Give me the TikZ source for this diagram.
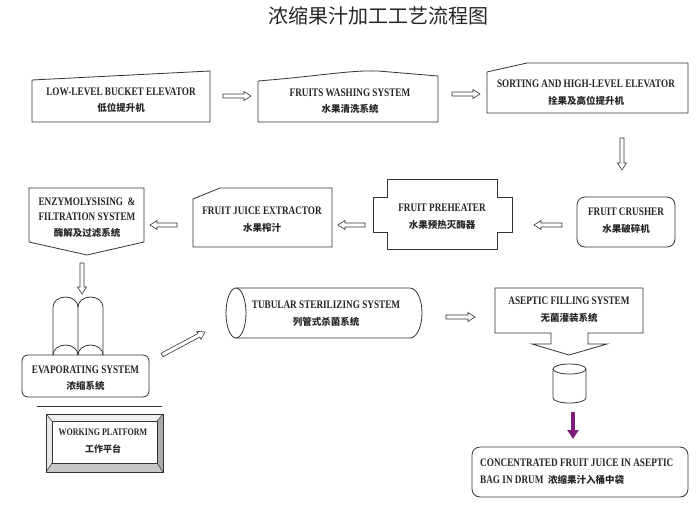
\documentclass[tikz,border=0pt]{standalone}
\usepackage{fontspec}
\setmainfont{Liberation Serif}[FakeStretch=0.8]
\newfontfamily\cjk{Noto Sans CJK SC}
\usetikzlibrary{calc,arrows.meta}
\definecolor{lineC}{gray}{0.2}
\definecolor{purpC}{RGB}{125,30,125}
\tikzset{
  box/.style={draw=lineC, line width=0.8pt},
  lbl/.style={inner sep=0pt, align=center, font=\fontsize{11.5}{16.5}\selectfont\bfseries, text=black!85},
  hollow/.style={draw=lineC, line width=0.6pt, fill=white, to path={
    ($(\tikztotarget)!7pt!(\tikztostart)$) coordinate (hb)
    ($(\tikztostart)!2pt!90:(\tikztotarget)$)
    -- ($(hb)!2pt!-90:(\tikztostart)$)
    -- ($(hb)!4.5pt!-90:(\tikztostart)$)
    -- (\tikztotarget)
    -- ($(hb)!4.5pt!90:(\tikztostart)$)
    -- ($(hb)!2pt!90:(\tikztostart)$)
    -- ($(\tikztostart)!2pt!-90:(\tikztotarget)$) -- cycle}},
}
\newcommand\zhs[1]{{\cjk\bfseries\fontsize{9.5}{16.5}\selectfont #1}}
\begin{document}
\begin{tikzpicture}[x=1pt,y=-1pt]
\useasboundingbox (0,0) rectangle (699,504);
\fill[white] (0,0) rectangle (699,504);

% title
\node[inner sep=0pt, font=\cjk\fontsize{20}{24}\selectfont, text=black!85] (title) at (378,16) {浓缩果汁加工工艺流程图};

% row 1
\draw[box] (32,80) -- (210,71) -- (210,122) -- (32,122) -- cycle;
\node[lbl] (b1) at (121,100) {LOW-LEVEL BUCKET ELEVATOR\\\zhs{低位提升机}};

\draw[box] (258,81) .. controls (320,76) and (350,70) .. (378,71) -- (438,76) -- (438,122) -- (258,122) -- cycle;
\node[lbl] (b2) at (350,101) {FRUITS WASHING SYSTEM\\\zhs{水果清洗系统}};

\draw[box] (487,72) -- (527,63) -- (688,63) -- (688,113) -- (487,113) -- cycle;
\node[lbl] (b3) at (586,92.5) {SORTING AND HIGH-LEVEL ELEVATOR\\\zhs{拴果及高位提升机}};

% row 2
\node[box, rounded corners=8pt, minimum width=98pt, minimum height=50pt] (crshape) at (626,222) {};
\node[lbl] (b4) at (626,220.5) {FRUIT CRUSHER\\\zhs{水果破碎机}};

\draw[box] (387,179) -- (497,179) -- (497,197) -- (512,197) -- (512,232) -- (497,232) -- (497,249) -- (387,249) -- (387,232) -- (373,232) -- (373,197) -- (387,197) -- cycle;
\node[lbl] (b5) at (442,216.5) {FRUIT PREHEATER\\\zhs{水果预热灭酶器}};

\draw[box] (193,199) -- (220,188) -- (332,188) -- (332,247) -- (193,247) -- cycle;
\node[lbl] (b6) at (262,219.5) {FRUIT JUICE EXTRACTOR\\\zhs{水果榨汁}};

\draw[box] (29,188) -- (144,188) -- (144,242) -- (87,255) -- (29,242) -- cycle;
\node[lbl, font=\fontsize{11.5}{15.5}\selectfont\bfseries] (b7) at (87,217.5) {ENZYMOLYSISING\ \ \&\\FILTRATION SYSTEM\\{\cjk\bfseries\fontsize{9.5}{15.5}\selectfont 酶解及过滤系统}};

% evaporator
\draw[box] (53,355) -- (53,307) arc[start angle=180, end angle=360, x radius=12.5, y radius=10] -- (78,355);
\draw[box] (78,307) arc[start angle=180, end angle=360, x radius=12.5, y radius=10] -- (103,355);
\node[box, rounded corners=6pt, minimum width=127pt, minimum height=42pt, fill=white] (evshape) at (85.5,376) {};
\draw[box] (53,355) arc[start angle=180, end angle=360, x radius=12.5, y radius=10];
\draw[box] (78,355) arc[start angle=180, end angle=360, x radius=12.5, y radius=10];
\node[lbl] (b8) at (85.5,378) {EVAPORATING SYSTEM\\\zhs{浓缩系统}};

\draw[lineC, line width=0.8pt] (37,406) coordinate (pl1) -- (162,406) coordinate (pl2);

% working platform
\fill[gray!12] (46,414) -- (163,414) -- (157,421) -- (52,421) -- cycle;
\fill[gray!18] (46,414) -- (52,421) -- (52,463) -- (46,472) -- cycle;
\fill[gray!65] (163,414) -- (163,472) -- (157,463) -- (157,421) -- cycle;
\fill[gray!45] (46,472) -- (163,472) -- (157,463) -- (52,463) -- cycle;
\draw[box] (46,414) rectangle (163,472);
\draw[box, line width=0.6pt] (52,421) rectangle (157,463);
\draw[lineC, line width=0.5pt] (46,414) -- (52,421) (163,414) -- (157,421) (46,472) -- (52,463) (163,472) -- (157,463);
\node[lbl, font=\fontsize{10}{17}\selectfont\bfseries] (b9) at (103,441.5) {WORKING PLATFORM\\{\cjk\fontsize{9}{17}\selectfont 工作平台}};

% tubular
\draw[box] (236,288) -- (410,288) arc[start angle=270, end angle=450, x radius=12, y radius=25] -- (236,338);
\draw[box] (236,313) ellipse[x radius=10, y radius=25];
\node[lbl] (b10) at (326,313.5) {TUBULAR STERILIZING SYSTEM\\\zhs{列管式杀菌系统}};

% aseptic
\draw[box] (495,288) -- (643,288) -- (643,333) -- (588,333) -- (588,344) -- (607,344) -- (569,355) -- (532,344) -- (551,344) -- (551,333) -- (495,333) -- cycle;
\node[lbl] (b11) at (569,309.5) {ASEPTIC FILLING SYSTEM\\\zhs{无菌灌装系统}};

% drum
\draw[box] (553,369) -- (553,398) arc[start angle=180, end angle=0, x radius=16.5, y radius=5] -- (586,369);
\draw[box] (569.5,369) ellipse[x radius=16.5, y radius=5];
\coordinate (drum) at (569.5,385);

% final
\node[box, rounded corners=8pt, minimum width=216pt, minimum height=50pt] (finshape) at (580,472) {};
\node[inner sep=0pt, align=left, anchor=west, font=\fontsize{11.5}{17}\selectfont\bfseries, text=black!85] (b12) at (480,471.5) {CONCENTRATED FRUIT JUICE IN ASEPTIC\\BAG IN DRUM\ \ \zhs{浓缩果汁入桶中袋}};

% arrows
\coordinate (a1s) at (223,96);   \coordinate (a1e) at (251,96);
\coordinate (a2s) at (452,94);   \coordinate (a2e) at (480,94);
\coordinate (a3s) at (622,138);  \coordinate (a3e) at (622,170);
\coordinate (a4s) at (562,225);  \coordinate (a4e) at (534,225);
\coordinate (a5s) at (365,225);  \coordinate (a5e) at (338,225);
\coordinate (a6s) at (177,225);  \coordinate (a6e) at (150,225);
\coordinate (a7s) at (82,263);   \coordinate (a7e) at (82,294);
\coordinate (a8s) at (162,355);  \coordinate (a8e) at (205,332);
\coordinate (a9s) at (446,317);  \coordinate (a9e) at (475,317);
\coordinate (a10s) at (573,412); \coordinate (a10e) at (573,439);

\path[hollow] (a1s) to (a1e);
\path[hollow] (a2s) to (a2e);
\path[hollow] (a3s) to (a3e);
\path[hollow] (a4s) to (a4e);
\path[hollow] (a5s) to (a5e);
\path[hollow] (a6s) to (a6e);
\path[hollow] (a7s) to (a7e);
\path[hollow] (a8s) to (a8e);
\path[hollow] (a9s) to (a9e);
\draw[purpC, line width=4pt, -{Triangle[width=11pt,length=9pt]}] (a10s) -- (a10e);
\end{tikzpicture}
\end{document}
